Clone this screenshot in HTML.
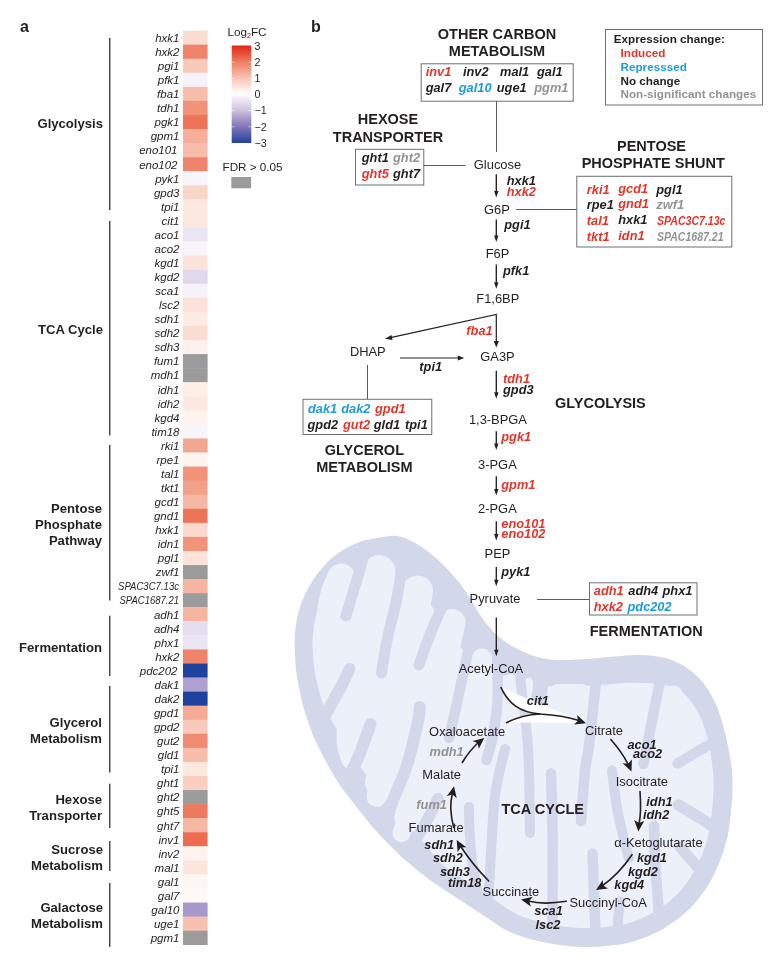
<!DOCTYPE html>
<html><head><meta charset="utf-8"><title>Figure</title>
<style>html,body{margin:0;padding:0;background:#fff}svg{display:block}text{font-family:"Liberation Sans",Arial,Helvetica,sans-serif;fill:#231f20}.g{font-style:italic;font-size:11.5px}.bi{font-style:italic;font-weight:bold;font-size:12.8px}.m{font-size:12.9px}.h{font-weight:bold;font-size:14.5px}.grp{font-weight:bold;font-size:13.1px}.lg{font-weight:bold;font-size:11.7px}.r{fill:#e5342a}.b{fill:#1b9ce0}.y{fill:#939393}</style></head><body>
<svg width="773" height="961" viewBox="0 0 773 961">
<rect width="773" height="961" fill="#fff"/>
<text x="20" y="32" style="font-weight:bold;font-size:16px">a</text>
<rect x="183.00" y="30.60" width="24.60" height="14.36" fill="#fbdcd0"/>
<text class="g" x="179.5" y="41.93" text-anchor="end">hxk1</text>
<rect x="183.00" y="44.66" width="24.60" height="14.36" fill="#ef846a"/>
<text class="g" x="179.5" y="56.00" text-anchor="end">hxk2</text>
<rect x="183.00" y="58.73" width="24.60" height="14.36" fill="#f9c9ba"/>
<text class="g" x="179.5" y="70.06" text-anchor="end">pgi1</text>
<rect x="183.00" y="72.79" width="24.60" height="14.36" fill="#f5f2f9"/>
<text class="g" x="179.5" y="84.12" text-anchor="end">pfk1</text>
<rect x="183.00" y="86.86" width="24.60" height="14.36" fill="#f7bcaa"/>
<text class="g" x="179.5" y="98.19" text-anchor="end">fba1</text>
<rect x="183.00" y="100.92" width="24.60" height="14.36" fill="#f19279"/>
<text class="g" x="179.5" y="112.25" text-anchor="end">tdh1</text>
<rect x="183.00" y="114.98" width="24.60" height="14.36" fill="#ed7459"/>
<text class="g" x="179.5" y="126.32" text-anchor="end">pgk1</text>
<rect x="183.00" y="129.05" width="24.60" height="14.36" fill="#f5ae99"/>
<text class="g" x="179.5" y="140.38" text-anchor="end">gpm1</text>
<rect x="183.00" y="143.11" width="24.60" height="14.36" fill="#f7bcaa"/>
<text class="g" x="177.5" y="154.44" text-anchor="end">eno101</text>
<rect x="183.00" y="157.18" width="24.60" height="14.36" fill="#ef846a"/>
<text class="g" x="177.5" y="168.51" text-anchor="end">eno102</text>
<rect x="183.00" y="171.24" width="24.60" height="14.36" fill="#f7f5fa"/>
<text class="g" x="179.5" y="182.57" text-anchor="end">pyk1</text>
<rect x="183.00" y="185.30" width="24.60" height="14.36" fill="#fad6c9"/>
<text class="g" x="179.5" y="196.64" text-anchor="end">gpd3</text>
<rect x="183.00" y="199.37" width="24.60" height="14.36" fill="#fde8e0"/>
<text class="g" x="179.5" y="210.70" text-anchor="end">tpi1</text>
<rect x="183.00" y="213.43" width="24.60" height="14.36" fill="#fde8e0"/>
<text class="g" x="179.5" y="224.76" text-anchor="end">cit1</text>
<rect x="183.00" y="227.50" width="24.60" height="14.36" fill="#eae5f2"/>
<text class="g" x="179.5" y="238.83" text-anchor="end">aco1</text>
<rect x="183.00" y="241.56" width="24.60" height="14.36" fill="#f7f5fa"/>
<text class="g" x="179.5" y="252.89" text-anchor="end">aco2</text>
<rect x="183.00" y="255.62" width="24.60" height="14.36" fill="#fce2d8"/>
<text class="g" x="179.5" y="266.96" text-anchor="end">kgd1</text>
<rect x="183.00" y="269.69" width="24.60" height="14.36" fill="#e0d8ec"/>
<text class="g" x="179.5" y="281.02" text-anchor="end">kgd2</text>
<rect x="183.00" y="283.75" width="24.60" height="14.36" fill="#f5f2f9"/>
<text class="g" x="179.5" y="295.08" text-anchor="end">sca1</text>
<rect x="183.00" y="297.82" width="24.60" height="14.36" fill="#fce2d8"/>
<text class="g" x="179.5" y="309.15" text-anchor="end">lsc2</text>
<rect x="183.00" y="311.88" width="24.60" height="14.36" fill="#fdebe4"/>
<text class="g" x="179.5" y="323.21" text-anchor="end">sdh1</text>
<rect x="183.00" y="325.94" width="24.60" height="14.36" fill="#fbdcd0"/>
<text class="g" x="179.5" y="337.28" text-anchor="end">sdh2</text>
<rect x="183.00" y="340.01" width="24.60" height="14.36" fill="#fef0ec"/>
<text class="g" x="179.5" y="351.34" text-anchor="end">sdh3</text>
<rect x="183.00" y="354.07" width="24.60" height="14.36" fill="#9b9b9b"/>
<text class="g" x="179.5" y="365.40" text-anchor="end">fum1</text>
<rect x="183.00" y="368.14" width="24.60" height="14.36" fill="#9b9b9b"/>
<text class="g" x="179.5" y="379.47" text-anchor="end">mdh1</text>
<rect x="183.00" y="382.20" width="24.60" height="14.36" fill="#fdeee8"/>
<text class="g" x="179.5" y="393.53" text-anchor="end">idh1</text>
<rect x="183.00" y="396.26" width="24.60" height="14.36" fill="#fde8e0"/>
<text class="g" x="179.5" y="407.60" text-anchor="end">idh2</text>
<rect x="183.00" y="410.33" width="24.60" height="14.36" fill="#fef3ef"/>
<text class="g" x="179.5" y="421.66" text-anchor="end">kgd4</text>
<rect x="183.00" y="424.39" width="24.60" height="14.36" fill="#f7f5fa"/>
<text class="g" x="179.5" y="435.72" text-anchor="end">tim18</text>
<rect x="183.00" y="438.46" width="24.60" height="14.36" fill="#f4a790"/>
<text class="g" x="179.5" y="449.79" text-anchor="end">rki1</text>
<rect x="183.00" y="452.52" width="24.60" height="14.36" fill="#fef3ef"/>
<text class="g" x="179.5" y="463.85" text-anchor="end">rpe1</text>
<rect x="183.00" y="466.58" width="24.60" height="14.36" fill="#f19279"/>
<text class="g" x="179.5" y="477.92" text-anchor="end">tal1</text>
<rect x="183.00" y="480.65" width="24.60" height="14.36" fill="#f3a088"/>
<text class="g" x="179.5" y="491.98" text-anchor="end">tkt1</text>
<rect x="183.00" y="494.71" width="24.60" height="14.36" fill="#f6b8a5"/>
<text class="g" x="179.5" y="506.04" text-anchor="end">gcd1</text>
<rect x="183.00" y="508.78" width="24.60" height="14.36" fill="#ed7459"/>
<text class="g" x="179.5" y="520.11" text-anchor="end">gnd1</text>
<rect x="183.00" y="522.84" width="24.60" height="14.36" fill="#fbd9cd"/>
<text class="g" x="179.5" y="534.17" text-anchor="end">hxk1</text>
<rect x="183.00" y="536.90" width="24.60" height="14.36" fill="#f19279"/>
<text class="g" x="179.5" y="548.24" text-anchor="end">idn1</text>
<rect x="183.00" y="550.97" width="24.60" height="14.36" fill="#fce2d8"/>
<text class="g" x="179.5" y="562.30" text-anchor="end">pgl1</text>
<rect x="183.00" y="565.03" width="24.60" height="14.36" fill="#9b9b9b"/>
<text class="g" x="179.5" y="576.36" text-anchor="end">zwf1</text>
<rect x="183.00" y="579.10" width="24.60" height="14.36" fill="#f6b5a1"/>
<text class="g" x="179" y="590.43" text-anchor="end" textLength="61" lengthAdjust="spacingAndGlyphs">SPAC3C7.13c</text>
<rect x="183.00" y="593.16" width="24.60" height="14.36" fill="#9b9b9b"/>
<text class="g" x="179" y="604.49" text-anchor="end" textLength="59.5" lengthAdjust="spacingAndGlyphs">SPAC1687.21</text>
<rect x="183.00" y="607.22" width="24.60" height="14.36" fill="#f6b5a1"/>
<text class="g" x="179.5" y="618.56" text-anchor="end">adh1</text>
<rect x="183.00" y="621.29" width="24.60" height="14.36" fill="#e5deef"/>
<text class="g" x="179.5" y="632.62" text-anchor="end">adh4</text>
<rect x="183.00" y="635.35" width="24.60" height="14.36" fill="#eae5f2"/>
<text class="g" x="179.5" y="646.68" text-anchor="end">phx1</text>
<rect x="183.00" y="649.42" width="24.60" height="14.36" fill="#ef846a"/>
<text class="g" x="179.5" y="660.75" text-anchor="end">hxk2</text>
<rect x="183.00" y="663.48" width="24.60" height="14.36" fill="#1e429e"/>
<text class="g" x="177.5" y="674.81" text-anchor="end">pdc202</text>
<rect x="183.00" y="677.54" width="24.60" height="14.36" fill="#afa0cf"/>
<text class="g" x="179.5" y="688.88" text-anchor="end">dak1</text>
<rect x="183.00" y="691.61" width="24.60" height="14.36" fill="#1e429e"/>
<text class="g" x="179.5" y="702.94" text-anchor="end">dak2</text>
<rect x="183.00" y="705.67" width="24.60" height="14.36" fill="#f4aa95"/>
<text class="g" x="179.5" y="717.00" text-anchor="end">gpd1</text>
<rect x="183.00" y="719.74" width="24.60" height="14.36" fill="#f9c9ba"/>
<text class="g" x="179.5" y="731.07" text-anchor="end">gpd2</text>
<rect x="183.00" y="733.80" width="24.60" height="14.36" fill="#f08b71"/>
<text class="g" x="179.5" y="745.13" text-anchor="end">gut2</text>
<rect x="183.00" y="747.86" width="24.60" height="14.36" fill="#f7bcaa"/>
<text class="g" x="179.5" y="759.20" text-anchor="end">gld1</text>
<rect x="183.00" y="761.93" width="24.60" height="14.36" fill="#fde8e0"/>
<text class="g" x="179.5" y="773.26" text-anchor="end">tpi1</text>
<rect x="183.00" y="775.99" width="24.60" height="14.36" fill="#facfc1"/>
<text class="g" x="179.5" y="787.32" text-anchor="end">ght1</text>
<rect x="183.00" y="790.06" width="24.60" height="14.36" fill="#9b9b9b"/>
<text class="g" x="179.5" y="801.39" text-anchor="end">ght2</text>
<rect x="183.00" y="804.12" width="24.60" height="14.36" fill="#ed795e"/>
<text class="g" x="179.5" y="815.45" text-anchor="end">ght5</text>
<rect x="183.00" y="818.18" width="24.60" height="14.36" fill="#f6b8a5"/>
<text class="g" x="179.5" y="829.52" text-anchor="end">ght7</text>
<rect x="183.00" y="832.25" width="24.60" height="14.36" fill="#ec6b51"/>
<text class="g" x="179.5" y="843.58" text-anchor="end">inv1</text>
<rect x="183.00" y="846.31" width="24.60" height="14.36" fill="#fef3ef"/>
<text class="g" x="179.5" y="857.64" text-anchor="end">inv2</text>
<rect x="183.00" y="860.38" width="24.60" height="14.36" fill="#fce5dc"/>
<text class="g" x="179.5" y="871.71" text-anchor="end">mal1</text>
<rect x="183.00" y="874.44" width="24.60" height="14.36" fill="#fef6f3"/>
<text class="g" x="179.5" y="885.77" text-anchor="end">gal1</text>
<rect x="183.00" y="888.50" width="24.60" height="14.36" fill="#fef8f6"/>
<text class="g" x="179.5" y="899.84" text-anchor="end">gal7</text>
<rect x="183.00" y="902.57" width="24.60" height="14.36" fill="#a898cb"/>
<text class="g" x="179.5" y="913.90" text-anchor="end">gal10</text>
<rect x="183.00" y="916.63" width="24.60" height="14.36" fill="#f8c0ae"/>
<text class="g" x="179.5" y="927.96" text-anchor="end">uge1</text>
<rect x="183.00" y="930.70" width="24.60" height="14.36" fill="#9b9b9b"/>
<text class="g" x="179.5" y="942.03" text-anchor="end">pgm1</text>
<line x1="109.8" y1="38" x2="109.8" y2="210" stroke="#231f20" stroke-width="1.2"/>
<line x1="109.8" y1="221" x2="109.8" y2="435.5" stroke="#231f20" stroke-width="1.2"/>
<line x1="109.8" y1="445" x2="109.8" y2="600.5" stroke="#231f20" stroke-width="1.2"/>
<line x1="109.8" y1="615.75" x2="109.8" y2="676" stroke="#231f20" stroke-width="1.2"/>
<line x1="109.8" y1="686" x2="109.8" y2="772.5" stroke="#231f20" stroke-width="1.2"/>
<line x1="109.8" y1="783.75" x2="109.8" y2="828" stroke="#231f20" stroke-width="1.2"/>
<line x1="109.8" y1="841" x2="109.8" y2="871" stroke="#231f20" stroke-width="1.2"/>
<line x1="109.8" y1="883" x2="109.8" y2="946.75" stroke="#231f20" stroke-width="1.2"/>
<text class="grp" x="103" y="128.2" text-anchor="end">Glycolysis</text>
<text class="grp" x="103" y="333.7" text-anchor="end">TCA Cycle</text>
<text class="grp" x="102" y="513.2" text-anchor="end">Pentose</text>
<text class="grp" x="102" y="529.2" text-anchor="end">Phosphate</text>
<text class="grp" x="102" y="545" text-anchor="end">Pathway</text>
<text class="grp" x="102" y="651.7" text-anchor="end">Fermentation</text>
<text class="grp" x="102" y="727" text-anchor="end">Glycerol</text>
<text class="grp" x="102" y="743" text-anchor="end">Metabolism</text>
<text class="grp" x="102" y="803.5" text-anchor="end">Hexose</text>
<text class="grp" x="102" y="819.7" text-anchor="end">Transporter</text>
<text class="grp" x="103" y="853.5" text-anchor="end">Sucrose</text>
<text class="grp" x="103" y="869.7" text-anchor="end">Metabolism</text>
<text class="grp" x="103" y="912.2" text-anchor="end">Galactose</text>
<text class="grp" x="103" y="928" text-anchor="end">Metabolism</text>
<defs><linearGradient id="cb" x1="0" y1="0" x2="0" y2="1">
<stop offset="0.0000" stop-color="#e32319"/>
<stop offset="0.0417" stop-color="#e63a28"/>
<stop offset="0.0833" stop-color="#e85037"/>
<stop offset="0.1250" stop-color="#eb664c"/>
<stop offset="0.1667" stop-color="#ee7d62"/>
<stop offset="0.2083" stop-color="#f08e75"/>
<stop offset="0.2500" stop-color="#f3a088"/>
<stop offset="0.2917" stop-color="#f6b29d"/>
<stop offset="0.3333" stop-color="#f8c3b2"/>
<stop offset="0.3750" stop-color="#fad2c5"/>
<stop offset="0.4167" stop-color="#fce2d8"/>
<stop offset="0.4583" stop-color="#fef0ec"/>
<stop offset="0.5000" stop-color="#ffffff"/>
<stop offset="0.5417" stop-color="#f2eef7"/>
<stop offset="0.5833" stop-color="#e5deef"/>
<stop offset="0.6250" stop-color="#d9d0e8"/>
<stop offset="0.6667" stop-color="#cdc1e0"/>
<stop offset="0.7083" stop-color="#baacd6"/>
<stop offset="0.7500" stop-color="#a898cb"/>
<stop offset="0.7917" stop-color="#9588c2"/>
<stop offset="0.8333" stop-color="#8278ba"/>
<stop offset="0.8750" stop-color="#6c69b3"/>
<stop offset="0.9167" stop-color="#555aac"/>
<stop offset="0.9583" stop-color="#3a4ea5"/>
<stop offset="1.0000" stop-color="#1e429e"/>
</linearGradient></defs>
<rect x="231.7" y="45.5" width="19.6" height="97.5" fill="url(#cb)"/>
<text x="254.5" y="49.70" style="font-size:10.7px">3</text>
<line x1="248.3" y1="62.17" x2="251.3" y2="62.17" stroke="#fff" stroke-width="0.7" opacity="0.7"/>
<line x1="231.7" y1="62.17" x2="234.7" y2="62.17" stroke="#fff" stroke-width="0.7" opacity="0.7"/>
<text x="254.5" y="65.87" style="font-size:10.7px">2</text>
<line x1="248.3" y1="78.34" x2="251.3" y2="78.34" stroke="#fff" stroke-width="0.7" opacity="0.7"/>
<line x1="231.7" y1="78.34" x2="234.7" y2="78.34" stroke="#fff" stroke-width="0.7" opacity="0.7"/>
<text x="254.5" y="82.04" style="font-size:10.7px">1</text>
<text x="254.5" y="98.21" style="font-size:10.7px">0</text>
<line x1="248.3" y1="110.68" x2="251.3" y2="110.68" stroke="#fff" stroke-width="0.7" opacity="0.7"/>
<line x1="231.7" y1="110.68" x2="234.7" y2="110.68" stroke="#fff" stroke-width="0.7" opacity="0.7"/>
<text x="254.5" y="114.38" style="font-size:10.7px">−1</text>
<line x1="248.3" y1="126.85" x2="251.3" y2="126.85" stroke="#fff" stroke-width="0.7" opacity="0.7"/>
<line x1="231.7" y1="126.85" x2="234.7" y2="126.85" stroke="#fff" stroke-width="0.7" opacity="0.7"/>
<text x="254.5" y="130.55" style="font-size:10.7px">−2</text>
<text x="254.5" y="146.72" style="font-size:10.7px">−3</text>
<text x="227.5" y="35.5" style="font-size:11.7px">Log<tspan dy="2.8" style="font-size:7px">2</tspan><tspan dy="-2.8">FC</tspan></text>
<text x="222.5" y="170.7" style="font-size:11.7px">FDR &gt; 0.05</text>
<rect x="231.3" y="177" width="19.8" height="11.3" fill="#9b9b9b"/>
<text x="311" y="32" style="font-weight:bold;font-size:16px">b</text>
<defs><clipPath id="mc"><path d="M295.0,633.0C295.8,625.0 297.0,615.8 300.0,607.0C303.0,598.2 307.5,588.3 313.0,580.0C318.5,571.7 325.7,563.2 333.0,557.0C340.3,550.8 348.7,546.3 357.0,543.0C365.3,539.7 375.8,538.1 383.0,537.0C390.2,535.9 393.7,534.9 400.0,536.5C406.3,538.1 414.1,542.1 421.0,546.6C427.9,551.1 435.1,557.0 441.6,563.3C448.2,569.5 455.1,577.5 460.3,584.1C465.5,590.7 469.0,596.9 472.8,602.8C476.6,608.7 479.0,614.0 483.2,619.5C487.4,625.0 492.2,631.2 497.8,636.1C503.4,641.0 509.9,645.1 516.5,648.6C523.1,652.1 530.0,655.0 537.3,656.9C544.5,658.8 551.2,659.7 560.0,660.0C568.8,660.3 580.8,659.3 590.0,658.7C599.2,658.1 606.3,657.1 615.0,656.5C623.7,655.9 632.3,654.4 642.0,655.0C651.7,655.6 663.7,656.7 673.0,660.4C682.3,664.1 691.0,670.1 698.0,677.0C705.0,683.9 710.5,692.7 715.0,702.0C719.5,711.3 722.2,722.2 725.0,733.0C727.8,743.8 730.2,757.0 731.5,766.5C732.8,776.0 732.6,782.6 732.5,790.0C732.4,797.4 731.8,803.3 731.0,811.0C730.2,818.7 729.3,827.7 727.5,836.0C725.7,844.3 723.3,852.7 720.0,861.0C716.7,869.3 712.5,878.1 707.5,886.0C702.5,893.9 696.7,901.8 690.0,908.5C683.3,915.2 675.4,921.0 667.5,926.0C659.6,931.0 650.8,935.4 642.5,938.5C634.2,941.6 627.9,943.3 617.5,944.8C607.1,946.2 592.5,947.5 580.0,947.0C567.5,946.5 554.2,944.5 542.5,942.0C530.8,939.5 519.9,936.5 510.0,932.0C500.1,927.5 491.3,920.3 483.0,915.0C474.7,909.7 468.8,905.8 460.0,900.0C451.2,894.2 439.6,887.1 430.0,880.0C420.4,872.9 411.2,865.4 402.5,857.5C393.8,849.6 385.4,841.2 377.5,832.5C369.6,823.8 362.1,814.2 355.0,805.0C347.9,795.8 341.2,787.5 335.0,777.5C328.8,767.5 322.5,755.8 317.5,745.0C312.5,734.2 308.3,723.3 305.0,712.5C301.7,701.7 299.2,689.6 297.5,680.0C295.8,670.4 295.4,662.8 295.0,655.0C294.6,647.2 294.2,641.0 295.0,633.0Z"/></clipPath></defs>
<path d="M295.0,633.0C295.8,625.0 297.0,615.8 300.0,607.0C303.0,598.2 307.5,588.3 313.0,580.0C318.5,571.7 325.7,563.2 333.0,557.0C340.3,550.8 348.7,546.3 357.0,543.0C365.3,539.7 375.8,538.1 383.0,537.0C390.2,535.9 393.7,534.9 400.0,536.5C406.3,538.1 414.1,542.1 421.0,546.6C427.9,551.1 435.1,557.0 441.6,563.3C448.2,569.5 455.1,577.5 460.3,584.1C465.5,590.7 469.0,596.9 472.8,602.8C476.6,608.7 479.0,614.0 483.2,619.5C487.4,625.0 492.2,631.2 497.8,636.1C503.4,641.0 509.9,645.1 516.5,648.6C523.1,652.1 530.0,655.0 537.3,656.9C544.5,658.8 551.2,659.7 560.0,660.0C568.8,660.3 580.8,659.3 590.0,658.7C599.2,658.1 606.3,657.1 615.0,656.5C623.7,655.9 632.3,654.4 642.0,655.0C651.7,655.6 663.7,656.7 673.0,660.4C682.3,664.1 691.0,670.1 698.0,677.0C705.0,683.9 710.5,692.7 715.0,702.0C719.5,711.3 722.2,722.2 725.0,733.0C727.8,743.8 730.2,757.0 731.5,766.5C732.8,776.0 732.6,782.6 732.5,790.0C732.4,797.4 731.8,803.3 731.0,811.0C730.2,818.7 729.3,827.7 727.5,836.0C725.7,844.3 723.3,852.7 720.0,861.0C716.7,869.3 712.5,878.1 707.5,886.0C702.5,893.9 696.7,901.8 690.0,908.5C683.3,915.2 675.4,921.0 667.5,926.0C659.6,931.0 650.8,935.4 642.5,938.5C634.2,941.6 627.9,943.3 617.5,944.8C607.1,946.2 592.5,947.5 580.0,947.0C567.5,946.5 554.2,944.5 542.5,942.0C530.8,939.5 519.9,936.5 510.0,932.0C500.1,927.5 491.3,920.3 483.0,915.0C474.7,909.7 468.8,905.8 460.0,900.0C451.2,894.2 439.6,887.1 430.0,880.0C420.4,872.9 411.2,865.4 402.5,857.5C393.8,849.6 385.4,841.2 377.5,832.5C369.6,823.8 362.1,814.2 355.0,805.0C347.9,795.8 341.2,787.5 335.0,777.5C328.8,767.5 322.5,755.8 317.5,745.0C312.5,734.2 308.3,723.3 305.0,712.5C301.7,701.7 299.2,689.6 297.5,680.0C295.8,670.4 295.4,662.8 295.0,655.0C294.6,647.2 294.2,641.0 295.0,633.0Z" fill="#d2d8ea"/>
<g clip-path="url(#mc)">
<path d="M312.9,634.9C313.6,628.0 314.5,620.2 317.0,612.8C319.6,605.3 323.3,596.6 328.4,590.2C333.6,583.8 341.2,577.8 347.8,574.6C354.4,571.4 361.4,571.2 368.1,570.9C374.9,570.5 384.5,572.5 388.4,572.6C392.2,572.7 389.0,570.7 391.2,571.4C393.4,572.1 397.2,573.9 401.5,576.9C405.8,579.9 411.7,584.4 416.7,589.3C421.8,594.3 427.7,600.9 432.0,606.4C436.4,611.9 438.8,616.6 442.6,622.4C446.3,628.1 448.8,634.7 454.4,641.1C460.0,647.5 468.1,655.3 476.1,660.9C484.1,666.6 493.5,671.5 502.5,675.1C511.6,678.8 521.0,681.0 530.5,683.0C539.9,685.0 548.9,686.5 559.1,687.0C569.3,687.4 582.1,686.2 591.7,685.6C601.4,685.1 608.8,683.9 616.9,683.4C625.0,683.0 632.4,682.7 640.1,682.9C647.9,683.1 656.4,683.0 663.5,684.6C670.6,686.2 676.9,688.3 682.5,692.6C688.1,697.0 692.8,703.2 697.0,710.7C701.2,718.2 704.9,727.7 707.6,737.5C710.2,747.2 711.7,760.3 712.7,769.0C713.7,777.7 713.6,783.1 713.5,789.8C713.4,796.4 712.9,801.9 712.1,808.9C711.4,816.0 710.6,824.4 708.9,831.9C707.3,839.4 705.3,846.6 702.4,853.9C699.4,861.3 695.7,869.0 691.4,875.9C687.1,882.7 682.2,889.4 676.6,895.1C670.9,900.7 664.1,905.7 657.4,909.9C650.6,914.2 642.9,918.0 635.8,920.7C628.8,923.4 624.1,924.7 614.9,925.9C605.8,927.1 592.1,928.4 580.7,928.0C569.3,927.6 557.0,925.6 546.5,923.4C536.0,921.2 526.7,918.8 517.9,914.7C509.0,910.6 501.1,904.1 493.2,899.0C485.3,893.9 479.0,890.0 470.5,884.1C461.9,878.3 450.3,871.6 441.9,863.9C433.5,856.3 427.3,846.5 419.9,838.2C412.5,830.0 404.8,822.7 397.5,814.4C390.3,806.1 383.0,797.0 376.4,788.5C369.8,780.0 363.9,772.2 357.9,763.2C351.9,754.2 345.8,744.0 340.2,734.5C334.6,725.1 328.2,716.2 324.1,706.6C320.0,697.0 317.6,685.6 315.7,676.8C313.9,668.1 313.4,661.0 313.0,654.0C312.5,647.0 312.2,641.7 312.9,634.9Z" fill="#ebf0f9"/>
<path d="M341.3,577.5C340.2,580.0 336.7,586.7 335.0,592.5C333.3,598.3 331.8,606.2 331.0,612.5C330.2,618.8 330.2,627.1 330.0,630.0" fill="none" stroke="#ebf0f9" stroke-width="28" stroke-linecap="round"/>
<path d="M379.0,571.5C378.3,576.2 376.7,589.4 375.0,600.0C373.3,610.6 370.0,629.2 369.0,635.0" fill="none" stroke="#ebf0f9" stroke-width="33" stroke-linecap="round"/>
<path d="M417.5,591.0C416.8,595.0 414.9,605.2 413.0,615.0C411.1,624.8 407.2,644.2 406.0,650.0" fill="none" stroke="#ebf0f9" stroke-width="31" stroke-linecap="round"/>
<path d="M452.0,622.5C451.2,626.2 448.8,636.2 447.0,645.0C445.2,653.8 442.0,670.0 441.0,675.0" fill="none" stroke="#ebf0f9" stroke-width="27" stroke-linecap="round"/>
<path d="M482.0,659.0C481.7,662.5 481.0,671.5 480.0,680.0C479.0,688.5 476.7,705.0 476.0,710.0" fill="none" stroke="#ebf0f9" stroke-width="21" stroke-linecap="round"/>
<path d="M510.5,681.0C510.2,684.2 509.6,693.5 509.0,700.0C508.4,706.5 507.3,716.7 507.0,720.0" fill="none" stroke="#ebf0f9" stroke-width="14" stroke-linecap="round"/>
<path d="M528.5,682.0C528.6,683.7 528.9,690.3 529.0,692.0" fill="none" stroke="#ebf0f9" stroke-width="9" stroke-linecap="round"/>
<path d="M558.0,692.5C561.9,692.5 577.6,692.5 581.5,692.5" fill="none" stroke="#ebf0f9" stroke-width="17" stroke-linecap="round"/>
<path d="M608.0,693.5C614.0,693.5 638.0,693.5 644.0,693.5" fill="none" stroke="#ebf0f9" stroke-width="17" stroke-linecap="round"/>
<path d="M673.0,696.0C673.5,699.2 674.2,708.5 676.0,715.0C677.8,721.5 682.7,731.7 684.0,735.0" fill="none" stroke="#ebf0f9" stroke-width="21" stroke-linecap="round"/>
<path d="M351.5,759.0C350.8,755.8 347.2,747.8 347.0,740.0C346.8,732.2 348.5,720.3 350.0,712.0C351.5,703.7 355.0,693.7 356.0,690.0" fill="none" stroke="#ebf0f9" stroke-width="21" stroke-linecap="round"/>
<path d="M376.5,797.0C376.9,794.5 378.6,784.5 379.0,782.0" fill="none" stroke="#ebf0f9" stroke-width="20" stroke-linecap="round"/>
<path d="M379.0,782.0C380.2,778.0 383.7,765.8 386.0,758.0C388.3,750.2 391.8,738.8 393.0,735.0" fill="none" stroke="#ebf0f9" stroke-width="28" stroke-linecap="round"/>
<path d="M401.5,833.0C402.2,830.8 405.2,822.2 406.0,820.0" fill="none" stroke="#ebf0f9" stroke-width="18" stroke-linecap="round"/>
<path d="M407.5,818.0C408.4,815.5 411.1,808.0 413.0,803.0C414.9,798.0 418.0,790.5 419.0,788.0" fill="none" stroke="#ebf0f9" stroke-width="26" stroke-linecap="round"/>
<path d="M366.0,545.0C365.1,548.8 362.7,559.6 360.5,567.5C358.3,575.4 355.4,584.4 353.0,592.5C350.6,600.6 347.2,612.1 346.0,616.0" fill="none" stroke="#d2d8ea" stroke-width="11" stroke-linecap="round"/>
<path d="M403.0,556.0C402.5,560.0 401.2,571.8 400.0,580.0C398.8,588.2 397.3,596.7 395.5,605.0C393.7,613.3 391.2,621.7 389.3,630.0C387.4,638.3 385.6,647.8 384.3,655.0C383.0,662.2 382.0,670.0 381.5,673.0" fill="none" stroke="#d2d8ea" stroke-width="11" stroke-linecap="round"/>
<path d="M447.0,590.0C445.9,593.3 443.0,603.3 440.5,610.0C438.0,616.7 434.8,622.5 431.8,630.0C428.8,637.5 424.6,649.2 422.5,655.0C420.4,660.8 419.6,663.3 419.0,665.0" fill="none" stroke="#d2d8ea" stroke-width="11" stroke-linecap="round"/>
<path d="M472.0,615.0C471.5,620.2 470.8,634.5 469.0,646.0C467.2,657.5 463.3,673.0 461.0,684.0C458.7,695.0 457.0,703.0 455.0,712.0C453.0,721.0 450.0,733.7 449.0,738.0" fill="none" stroke="#d2d8ea" stroke-width="10.5" stroke-linecap="round"/>
<path d="M497.0,640.0C497.1,650.0 498.2,684.2 497.5,700.0C496.8,715.8 494.8,725.0 493.0,735.0C491.2,745.0 487.6,755.8 486.5,760.0" fill="none" stroke="#d2d8ea" stroke-width="10.5" stroke-linecap="round"/>
<path d="M519.0,665.0C519.3,668.3 519.7,673.3 521.0,685.0C522.3,696.7 525.7,720.7 527.0,735.0C528.3,749.3 528.5,754.7 529.0,771.0C529.5,787.3 529.8,822.7 530.0,833.0" fill="none" stroke="#d2d8ea" stroke-width="10" stroke-linecap="round"/>
<path d="M542.0,670.0C541.7,673.3 541.0,683.0 540.0,690.0C539.0,697.0 536.7,708.3 536.0,712.0" fill="none" stroke="#d2d8ea" stroke-width="15" stroke-linecap="round"/>
<path d="M597.0,670.0C596.6,674.3 595.8,683.5 594.5,696.0C593.2,708.5 590.6,732.5 589.0,745.0C587.4,757.5 586.3,758.3 585.0,771.0C583.7,783.7 581.7,812.7 581.0,821.0" fill="none" stroke="#d2d8ea" stroke-width="10.5" stroke-linecap="round"/>
<path d="M314.0,736.0C316.7,731.0 325.9,714.0 330.4,705.8C334.9,697.6 337.6,693.1 340.8,687.0C344.0,680.9 348.1,672.0 349.5,669.0" fill="none" stroke="#d2d8ea" stroke-width="12" stroke-linecap="round"/>
<path d="M338.0,794.0C340.9,789.0 351.0,772.5 355.3,764.0C359.6,755.5 361.2,749.9 363.7,743.2C366.2,736.5 369.4,727.2 370.5,724.0" fill="none" stroke="#d2d8ea" stroke-width="12" stroke-linecap="round"/>
<path d="M372.0,826.0C374.4,824.0 382.8,819.1 386.6,814.0C390.4,808.9 391.4,803.6 394.9,795.3C398.4,787.0 403.6,776.1 407.4,764.0C411.2,751.9 415.7,731.9 417.8,722.4C419.9,712.9 419.5,709.6 419.8,707.0" fill="none" stroke="#d2d8ea" stroke-width="12" stroke-linecap="round"/>
<path d="M400.0,864.0C401.9,861.2 406.8,854.9 411.5,847.3C416.2,839.6 423.8,826.2 428.2,818.1C432.6,810.0 436.4,801.8 438.0,798.5" fill="none" stroke="#d2d8ea" stroke-width="11.5" stroke-linecap="round"/>
<path d="M478.0,895.0C477.0,889.2 473.4,870.8 472.0,860.0C470.6,849.2 470.0,838.8 469.5,830.0C469.0,821.2 469.1,810.8 469.0,807.0" fill="none" stroke="#d2d8ea" stroke-width="10" stroke-linecap="round"/>
<path d="M488.0,905.0C488.3,899.3 488.8,889.2 490.0,871.0C491.2,852.8 492.5,816.3 495.0,796.0C497.5,775.7 503.3,756.8 505.0,749.0" fill="none" stroke="#d2d8ea" stroke-width="10" stroke-linecap="round"/>
<path d="M553.0,935.0C552.9,931.8 552.6,933.5 552.5,916.0C552.4,898.5 552.8,853.8 552.5,830.0C552.2,806.2 551.2,782.9 551.0,773.5" fill="none" stroke="#d2d8ea" stroke-width="10.5" stroke-linecap="round"/>
<path d="M596.0,935.0C595.8,932.7 595.4,930.2 595.0,921.0C594.6,911.8 593.9,891.2 593.5,880.0C593.1,868.8 592.7,857.9 592.5,853.5" fill="none" stroke="#d2d8ea" stroke-width="10.5" stroke-linecap="round"/>
<path d="M618.0,940.0C618.0,936.8 617.7,927.4 618.0,921.0C618.3,914.6 619.7,904.8 620.0,901.5" fill="none" stroke="#d2d8ea" stroke-width="10" stroke-linecap="round"/>
<path d="M662.0,672.0C661.5,674.6 660.3,679.7 658.7,687.5C657.1,695.3 654.9,706.0 652.4,718.7C649.9,731.5 645.0,756.5 643.5,764.0" fill="none" stroke="#d2d8ea" stroke-width="10.5" stroke-linecap="round"/>
<path d="M722.0,737.0C720.8,737.8 719.3,738.8 714.8,741.5C710.3,744.2 701.2,749.3 695.0,753.0C688.8,756.7 680.4,761.8 677.5,763.5" fill="none" stroke="#d2d8ea" stroke-width="10.5" stroke-linecap="round"/>
<path d="M629.0,858.0C628.3,855.6 626.9,851.3 625.0,843.5C623.1,835.7 619.7,823.2 617.5,811.0C615.3,798.8 612.9,777.2 612.0,770.5" fill="none" stroke="#d2d8ea" stroke-width="10" stroke-linecap="round"/>
<path d="M730.0,838.0C725.0,834.7 708.6,823.5 700.0,818.0C691.4,812.5 682.1,807.2 678.5,805.0" fill="none" stroke="#d2d8ea" stroke-width="11.5" stroke-linecap="round"/>
<path d="M660.0,935.0C659.7,929.3 658.8,913.5 658.0,901.0C657.2,888.5 655.7,872.6 655.0,860.0C654.3,847.4 654.2,831.2 654.0,825.5" fill="none" stroke="#d2d8ea" stroke-width="10.5" stroke-linecap="round"/>
<path d="M718.0,894.0C715.0,890.0 706.3,877.8 700.0,870.0C693.7,862.2 683.3,850.8 680.0,847.0" fill="none" stroke="#d2d8ea" stroke-width="11" stroke-linecap="round"/>
</g>
<text class="h" x="497" y="39.2" text-anchor="middle">OTHER CARBON</text>
<text class="h" x="497" y="56.2" text-anchor="middle">METABOLISM</text>
<text class="h" x="388" y="124.2" text-anchor="middle">HEXOSE</text>
<text class="h" x="388" y="141.7" text-anchor="middle">TRANSPORTER</text>
<text class="h" x="651.5" y="150.7" text-anchor="middle">PENTOSE</text>
<text class="h" x="653.2" y="168.2" text-anchor="middle">PHOSPHATE SHUNT</text>
<text class="h" x="555" y="407.5">GLYCOLYSIS</text>
<text class="h" x="364.4" y="454.5" text-anchor="middle">GLYCEROL</text>
<text class="h" x="364.4" y="472" text-anchor="middle">METABOLISM</text>
<text class="h" x="589.7" y="636.3">FERMENTATION</text>
<text class="h" x="501.5" y="814">TCA CYCLE</text>
<rect x="421.2" y="63.8" width="152.00000000000006" height="37.400000000000006" fill="#fff" stroke="#6d6e71" stroke-width="1"/>
<text class="bi r" x="425.7" y="76.2">inv1</text>
<text class="bi" x="463" y="76.2">inv2</text>
<text class="bi" x="500" y="76.2">mal1</text>
<text class="bi" x="537" y="76.2">gal1</text>
<text class="bi" x="425.7" y="92">gal7</text>
<text class="bi b" x="458.8" y="92">gal10</text>
<text class="bi" x="496.8" y="92">uge1</text>
<text class="bi y" x="534.3" y="92">pgm1</text>
<line x1="496.5" y1="101.2" x2="496.5" y2="152" stroke="#58595b" stroke-width="1"/>
<rect x="355.5" y="149.3" width="68.30000000000001" height="35.69999999999999" fill="#fff" stroke="#6d6e71" stroke-width="1"/>
<text class="bi" x="361.8" y="162">ght1</text>
<text class="bi y" x="393" y="162">ght2</text>
<text class="bi r" x="361.8" y="178">ght5</text>
<text class="bi" x="393" y="178">ght7</text>
<line x1="423.8" y1="165.5" x2="465.5" y2="165.5" stroke="#58595b" stroke-width="1"/>
<rect x="605.5" y="29.5" width="157.0" height="75.5" fill="#fff" stroke="#6d6e71" stroke-width="1"/>
<text class="lg" x="613.8" y="42.5">Expression change:</text>
<text class="lg r" x="620.5" y="56.5">Induced</text>
<text class="lg b" x="620.5" y="70.7">Represssed</text>
<text class="lg" x="620.5" y="84.5">No change</text>
<text class="lg y" x="620.5" y="98.2">Non-significant changes</text>
<rect x="576.8" y="176.3" width="155.0" height="70.69999999999999" fill="#fff" stroke="#6d6e71" stroke-width="1"/>
<text class="bi r" x="586.8" y="193.7">rki1</text>
<text class="bi" x="586.8" y="209.2">rpe1</text>
<text class="bi r" x="586.8" y="225">tal1</text>
<text class="bi r" x="586.8" y="240.5">tkt1</text>
<text class="bi r" x="618.3" y="192.7">gcd1</text>
<text class="bi r" x="618.3" y="208.2">gnd1</text>
<text class="bi" x="618.3" y="224">hxk1</text>
<text class="bi r" x="618.3" y="239.5">idn1</text>
<text class="bi" x="656.3" y="193.7">pgl1</text>
<text class="bi y" x="656.3" y="209.2">zwf1</text>
<text class="bi r" x="657" y="225" textLength="68.5" lengthAdjust="spacingAndGlyphs">SPAC3C7.13c</text>
<text class="bi y" x="657" y="240.5" textLength="66.5" lengthAdjust="spacingAndGlyphs">SPAC1687.21</text>
<line x1="516.3" y1="209.5" x2="576.8" y2="209.5" stroke="#58595b" stroke-width="1"/>
<text class="m" x="497.5" y="168.7" text-anchor="middle">Glucose</text>
<text class="m" x="496.9" y="213.7" text-anchor="middle">G6P</text>
<text class="m" x="497.5" y="258" text-anchor="middle">F6P</text>
<text class="m" x="497.8" y="303" text-anchor="middle">F1,6BP</text>
<text class="m" x="497.5" y="361.2" text-anchor="middle">GA3P</text>
<text class="m" x="497.9" y="423.7" text-anchor="middle">1,3-BPGA</text>
<text class="m" x="497.4" y="468.7" text-anchor="middle">3-PGA</text>
<text class="m" x="497.4" y="513.2" text-anchor="middle">2-PGA</text>
<text class="m" x="497.5" y="558" text-anchor="middle">PEP</text>
<text class="m" x="495" y="602.5" text-anchor="middle">Pyruvate</text>
<text class="m" x="367.8" y="356.2" text-anchor="middle">DHAP</text>
<text class="m" x="491" y="672.5" text-anchor="middle">Acetyl-CoA</text>
<line x1="496.3" y1="174.3" x2="496.3" y2="194.5" stroke="#231f20" stroke-width="1.35"/>
<polygon points="494.1,191.0 498.5,191.0 496.3,197.5" fill="#231f20"/>
<line x1="496.3" y1="219.5" x2="496.3" y2="239" stroke="#231f20" stroke-width="1.35"/>
<polygon points="494.1,235.5 498.5,235.5 496.3,242" fill="#231f20"/>
<line x1="496.3" y1="264.5" x2="496.3" y2="285.8" stroke="#231f20" stroke-width="1.35"/>
<polygon points="494.1,282.3 498.5,282.3 496.3,288.8" fill="#231f20"/>
<line x1="496.3" y1="431.3" x2="496.3" y2="447" stroke="#231f20" stroke-width="1.35"/>
<polygon points="494.1,443.5 498.5,443.5 496.3,450" fill="#231f20"/>
<line x1="496.3" y1="476.3" x2="496.3" y2="492.5" stroke="#231f20" stroke-width="1.35"/>
<polygon points="494.1,489.0 498.5,489.0 496.3,495.5" fill="#231f20"/>
<line x1="496.3" y1="521.3" x2="496.3" y2="537.5" stroke="#231f20" stroke-width="1.35"/>
<polygon points="494.1,534.0 498.5,534.0 496.3,540.5" fill="#231f20"/>
<line x1="496.3" y1="567" x2="496.3" y2="583.3" stroke="#231f20" stroke-width="1.35"/>
<polygon points="494.1,579.8 498.5,579.8 496.3,586.3" fill="#231f20"/>
<line x1="496.3" y1="370.8" x2="496.3" y2="395.8" stroke="#231f20" stroke-width="1.35"/>
<polygon points="494.1,392.3 498.5,392.3 496.3,398.8" fill="#231f20"/>
<line x1="496.3" y1="617.5" x2="496.3" y2="653.3" stroke="#231f20" stroke-width="1.35"/>
<polygon points="494.1,649.8 498.5,649.8 496.3,656.3" fill="#231f20"/>
<polyline points="496.3,344.5 496.3,314.5 390.5,337.6" fill="none" stroke="#231f20" stroke-width="1.2" stroke-linejoin="miter"/>
<polygon points="493.7,341 498.90000000000003,341 496.3,347.5" fill="#231f20"/>
<polygon points="385,338.8 391.5,335 392.5,339.9" fill="#231f20"/>
<line x1="400" y1="358" x2="460" y2="358" stroke="#231f20" stroke-width="1.2"/>
<polygon points="457.8,355.4 457.8,360.6 464.3,358" fill="#231f20"/>
<line x1="367.5" y1="365" x2="367.5" y2="399.3" stroke="#58595b" stroke-width="1"/>
<rect x="303" y="399.3" width="128.8" height="35.19999999999999" fill="#fff" stroke="#6d6e71" stroke-width="1"/>
<text class="bi b" x="308" y="412.5">dak1</text>
<text class="bi b" x="341.3" y="412.5">dak2</text>
<text class="bi r" x="375" y="412.5">gpd1</text>
<text class="bi" x="307.5" y="428.7">gpd2</text>
<text class="bi r" x="343" y="428.7">gut2</text>
<text class="bi" x="373.8" y="428.7">gld1</text>
<text class="bi" x="405" y="428.7">tpi1</text>
<text class="bi" x="506.8" y="184.5">hxk1</text>
<text class="bi r" x="506.8" y="195.7">hxk2</text>
<text class="bi" x="504.3" y="228.7">pgi1</text>
<text class="bi" x="503" y="275">pfk1</text>
<text class="bi r" x="466.3" y="334.5">fba1</text>
<text class="bi" x="419.3" y="371.2">tpi1</text>
<text class="bi r" x="503" y="383.2">tdh1</text>
<text class="bi" x="503" y="393.7">gpd3</text>
<text class="bi r" x="501.3" y="440.5">pgk1</text>
<text class="bi r" x="501.3" y="488.7">gpm1</text>
<text class="bi r" x="501.3" y="527.5">eno101</text>
<text class="bi r" x="501.3" y="538">eno102</text>
<text class="bi" x="501.3" y="576.2">pyk1</text>
<line x1="537" y1="599.5" x2="589.5" y2="599.5" stroke="#58595b" stroke-width="1"/>
<rect x="589.5" y="582.8" width="107.5" height="32.200000000000045" fill="#fff" stroke="#6d6e71" stroke-width="1"/>
<text class="bi r" x="593.8" y="595.2">adh1</text>
<text class="bi" x="628.3" y="595.2">adh4</text>
<text class="bi" x="662.5" y="595.2">phx1</text>
<text class="bi r" x="593.8" y="610.8">hxk2</text>
<text class="bi b" x="627.5" y="610.8">pdc202</text>
<path d="M501,687.5 C508,703 519,712 540,714 C556,715 568,717 580,721 L585,722.5 Z" fill="#fff"/>
<path d="M506.6,722.6 C517,717.5 528,714.5 540,714 C556,715 568,717 580,721 L583,722.8 Z" fill="#fff"/>
<path d="M501,687.5 C508,703 519,712 540,714 C556,715 568,717 579,720.5" fill="none" stroke="#231f20" stroke-width="1.6" stroke-linecap="round"/>
<path d="M506.6,722.6 C517,717.5 528,714.5 540,714" fill="none" stroke="#231f20" stroke-width="1.6" stroke-linecap="round"/>
<polygon points="586.0,723.3 574.0,724.6 578.0,720.7 577.1,715.1" fill="#231f20"/>
<path d="M611,739.7 Q622,752 628.5,765" fill="none" stroke="#231f20" stroke-width="1.6" stroke-linecap="round"/>
<polygon points="631.5,771.5 622.6,763.3 628.2,763.8 631.9,759.4" fill="#231f20"/>
<path d="M640,791.5 Q641.5,812 639,824" fill="none" stroke="#231f20" stroke-width="1.6" stroke-linecap="round"/>
<polygon points="638.3,831.5 634.2,820.1 639.0,823.1 644.2,820.9" fill="#231f20"/>
<path d="M632,854.7 Q619,874 602,886" fill="none" stroke="#231f20" stroke-width="1.6" stroke-linecap="round"/>
<polygon points="596.0,890.0 602.7,880.0 603.1,885.6 608.0,888.5" fill="#231f20"/>
<path d="M566.3,901.3 Q543,905 528,901" fill="none" stroke="#231f20" stroke-width="1.6" stroke-linecap="round"/>
<polygon points="521.0,899.5 532.8,896.8 529.2,901.1 530.8,906.6" fill="#231f20"/>
<path d="M488.7,881 Q472,864 460.5,846" fill="none" stroke="#231f20" stroke-width="1.6" stroke-linecap="round"/>
<polygon points="456.7,840.0 466.4,847.2 460.7,847.4 457.6,852.0" fill="#231f20"/>
<path d="M453.7,827.5 Q448.5,808 452.5,793" fill="none" stroke="#231f20" stroke-width="1.6" stroke-linecap="round"/>
<polygon points="454.0,786.3 456.7,798.1 452.4,794.5 446.9,796.1" fill="#231f20"/>
<path d="M462.3,762.5 Q469,751 478.5,742.5" fill="none" stroke="#231f20" stroke-width="1.6" stroke-linecap="round"/>
<polygon points="484.3,738.0 478.8,748.8 477.7,743.2 472.6,741.0" fill="#231f20"/>
<text class="m" x="467.1" y="735.5" text-anchor="middle">Oxaloacetate</text>
<text class="m" x="604" y="735.3" text-anchor="middle">Citrate</text>
<text class="m" x="641.9" y="786" text-anchor="middle">Isocitrate</text>
<text class="m" x="441.6" y="779" text-anchor="middle">Malate</text>
<text class="m" x="436.2" y="832.3" text-anchor="middle">Fumarate</text>
<text class="m" x="510.9" y="895.5" text-anchor="middle">Succinate</text>
<text class="m" x="608.2" y="906.8" text-anchor="middle">Succinyl-CoA</text>
<text class="m" x="614.2" y="847.3">α-Ketoglutarate</text>
<text class="bi" x="526.8" y="705">cit1</text>
<text class="bi" x="627.5" y="748.5">aco1</text>
<text class="bi" x="633" y="758">aco2</text>
<text class="bi" x="646.3" y="806">idh1</text>
<text class="bi" x="643" y="818.5">idh2</text>
<text class="bi" x="637" y="861.5">kgd1</text>
<text class="bi" x="628" y="875.5">kgd2</text>
<text class="bi" x="614.3" y="889.3">kgd4</text>
<text class="bi" x="534.3" y="914.8">sca1</text>
<text class="bi" x="535.5" y="928.5">lsc2</text>
<text class="bi" x="424.3" y="849.3">sdh1</text>
<text class="bi" x="433" y="862.3">sdh2</text>
<text class="bi" x="440" y="875.5">sdh3</text>
<text class="bi" x="448" y="886.8">tim18</text>
<text class="bi y" x="416.3" y="809">fum1</text>
<text class="bi y" x="429.5" y="755.5">mdh1</text>
</svg></body></html>
